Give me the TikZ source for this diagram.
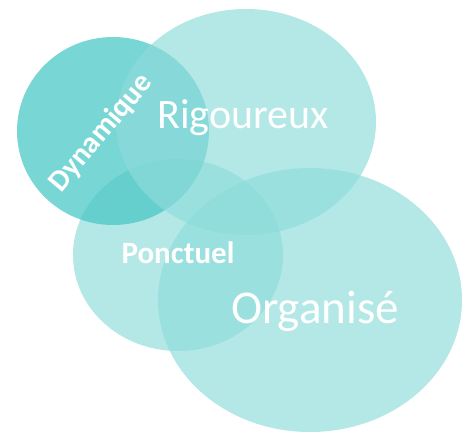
\documentclass[tikz,border=0pt]{standalone}
\usepackage{fontspec}
\setmainfont{Carlito}
\RequirePackage{xcolor}
\definecolor{tealsoft}{RGB}{141,220,218}
\definecolor{tealdeep}{RGB}{75,200,198}
\tikzset{every node/.style={align=center, text=white},
         blob/.style={ % Sets the properties for each bubble
           fill=tealsoft, fill opacity=0.67},
         blobdeep/.style={fill=tealdeep, fill opacity=0.75},
         bigword/.style={font=\fontsize{42}{42}\selectfont},
         boldword/.style={font=\bfseries\fontsize{31}{31}\selectfont}}

\begin{document}
\begin{tikzpicture}[x=1pt,y=-1pt]
  \useasboundingbox (0,0) rectangle (469,434);

  % bubbles, back to front
  \fill[blob] (178,255) ellipse [x radius=105, y radius=96];
  \fill[blobdeep] (113,131) ellipse [x radius=96, y radius=94];
  \fill[blob] (246,122) ellipse [x radius=130, y radius=113];
  \fill[blob] (310,300) ellipse [x radius=152, y radius=132];

  % words
  \node[bigword, anchor=base] (rigoureux) at (243,128) {Rigoureux};
  \node[bigword, anchor=base, font=\fontsize{47}{47}\selectfont] (organise) at (315,323) {Organisé};
  \node[boldword, anchor=base] (ponctuel) at (178,263) {Ponctuel};
  \node[boldword, rotate=50, font=\bfseries\fontsize{30}{30}\selectfont] (dynamique) at (101,133) {Dynamique};
\end{tikzpicture}
\end{document}
